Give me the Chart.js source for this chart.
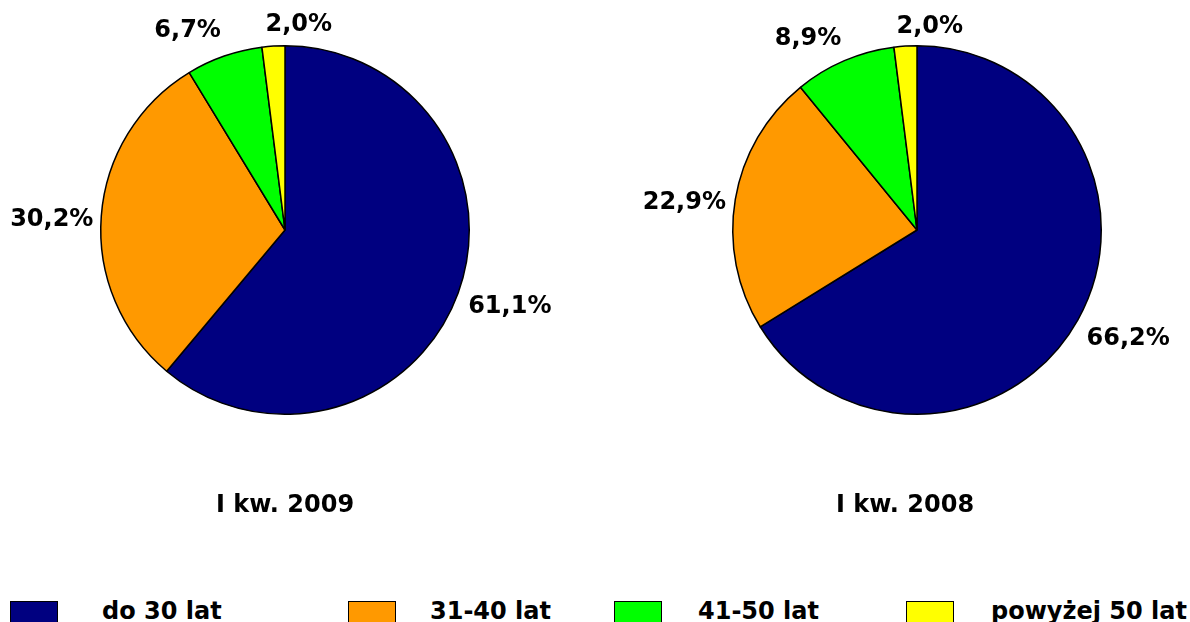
<!DOCTYPE html>
<html>
<head>
<meta charset="utf-8">
<script src="https://cdn.jsdelivr.net/npm/chart.js@4"></script>
<style>
  body { margin: 0; background: #fff; width: 1190px; height: 622px; overflow: hidden; position: relative; font-family: "DejaVu Sans", Verdana, sans-serif; font-weight: bold; }
  .wykres { position: absolute; top: 0; width: 595px; height: 560px; }
  .tytul { position: absolute; top: 490px; width: 300px; text-align: center; font-size: 24px; line-height: 28px; color: #000; }
  .leg-box { position: absolute; top: 601px; width: 46px; height: 26px; border: 1.5px solid #000; }
  .leg-txt { position: absolute; top: 597px; font-size: 24px; line-height: 28px; color: #000; white-space: nowrap; }
</style>
</head>
<body>
<div class="wykres" style="left:0"><canvas id="pie2009"></canvas></div>
<div class="wykres" style="left:595px"><canvas id="pie2008"></canvas></div>
<div class="tytul" id="tytul2009" style="left:135px"></div>
<div class="tytul" id="tytul2008" style="left:755px"></div>
<div id="legenda"></div>

<script>
// Grupy wiekowe (kolejnosc jak na wykresie, od godziny 12 zgodnie z ruchem wskazowek)
const categories = ['do 30 lat', '31-40 lat', '41-50 lat', 'powyżej 50 lat'];
const periods = ['I kw. 2009', 'I kw. 2008'];
// Udzialy procentowe
const values2009 = [61.1, 30.2, 6.7, 2.0];
const values2008 = [66.2, 22.9, 8.9, 2.0];

const colors = ['#000080', '#FF9900', '#00FF00', '#FFFF00'];
// Przesuniecia etykiet (px) wzgledem pozycji liczonej z kata wycinka
const labelNudge2009 = [[5, 7], [0, 5], [-23, -7], [28, -2]];
const labelNudge2008 = [[7, 10], [-2, 6], [-20, -4], [27, 0]];
// Pozycje legendy w stylu Excela
const legendBoxX = [10, 348, 614, 906];
const legendTextX = [102, 430, 698, 991];

const LABEL_FONT = 'bold 24px "DejaVu Sans", Verdana, sans-serif';

// Etykiety procentowe rysowane na zewnatrz wycinkow
const outsideLabels = {
    id: 'outsideLabels',
    afterDraw(chart, args, opts) {
        const ctx = chart.ctx;
        const arcs = chart.getDatasetMeta(0).data;
        const data = chart.data.datasets[0].data;
        ctx.save();
        ctx.font = LABEL_FONT;
        ctx.fillStyle = '#000';
        ctx.textAlign = 'center';
        ctx.textBaseline = 'middle';
        arcs.forEach((arc, i) => {
            const p = arc.getProps(['x', 'y', 'startAngle', 'endAngle', 'outerRadius'], true);
            const mid = (p.startAngle + p.endAngle) / 2;
            const dx = Math.cos(mid), dy = Math.sin(mid);
            const text = data[i].toFixed(1).replace('.', ',') + '%';
            const w = ctx.measureText(text).width;
            const h = 22;
            const r = p.outerRadius + 8;
            const nudge = opts.nudge[i] || [0, 0];
            const tx = p.x + dx * r + dx * w / 2 + nudge[0];
            const ty = p.y + dy * r + dy * h / 2 + nudge[1];
            ctx.fillText(text, tx, ty);
        });
        ctx.restore();
    }
};

function makePie(id, values, padding, nudge) {
    return new Chart(document.getElementById(id), {
        type: 'pie',
        data: {
            labels: categories,
            datasets: [{
                data: values,
                backgroundColor: colors,
                borderColor: '#000',
                borderWidth: 1.5,
                borderAlign: 'center'
            }]
        },
        options: {
            responsive: true,
            maintainAspectRatio: false,
            animation: false,
            layout: { padding: padding },
            plugins: {
                legend: { display: false },
                tooltip: { enabled: false },
                outsideLabels: { nudge: nudge }
            }
        },
        plugins: [outsideLabels]
    });
}

makePie('pie2009', values2009, { left: 100, right: 125, top: 45, bottom: 145 }, labelNudge2009);
makePie('pie2008', values2008, { left: 137, right: 88, top: 45, bottom: 145 }, labelNudge2008);

document.getElementById('tytul2009').textContent = periods[0];
document.getElementById('tytul2008').textContent = periods[1];

const legenda = document.getElementById('legenda');
categories.forEach((cat, i) => {
    const box = document.createElement('div');
    box.className = 'leg-box';
    box.style.left = legendBoxX[i] + 'px';
    box.style.background = colors[i];
    legenda.appendChild(box);
    const txt = document.createElement('div');
    txt.className = 'leg-txt';
    txt.style.left = legendTextX[i] + 'px';
    txt.textContent = cat;
    legenda.appendChild(txt);
});
</script>
</body>
</html>
